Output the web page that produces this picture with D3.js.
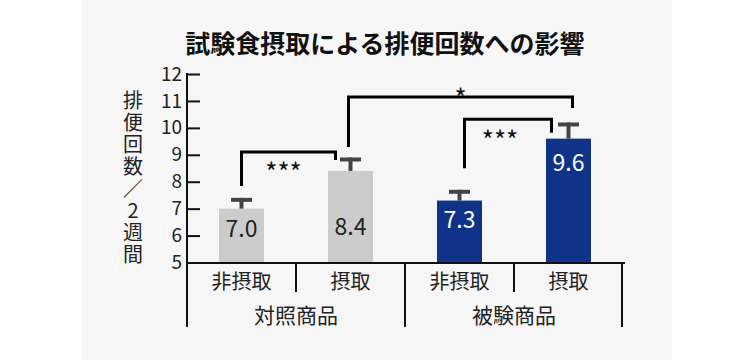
<!DOCTYPE html>
<html><head><meta charset="utf-8">
<script src="https://cdn.jsdelivr.net/npm/d3@7"></script>
<style>
html,body{margin:0;padding:0;background:#fff;}
svg text{font-family:"Noto Sans CJK JP","Noto Sans",sans-serif;}
</style></head>
<body><svg id="c" width="750" height="360"></svg>
<script>
// ---- data ----
const title = "試験食摂取による排便回数への影響";
const yTitle = "排便回数／2週間";
const subCategories = ["非摂取","摂取","非摂取","摂取"];
const groups = ["対照商品","被験商品"];
const values = [7.0, 8.4, 7.3, 9.6];
const valueLabels = ["7.0","8.4","7.3","9.6"];
const errors = [0.4, 0.5, 0.4, 0.6];
const yTicks = [5,6,7,8,9,10,11,12];
// significance brackets: bar index a -> b, level and leg ends in y units
const brackets = [
  {a:0, b:1, label:"***", top:9.10, aEnd:7.84, bEnd:8.81},
  {a:1, b:3, label:"*",   top:11.15, aEnd:9.29, bEnd:10.74},
  {a:2, b:3, label:"***", top:10.32, aEnd:8.50, bEnd:9.82}
];

// ---- style ----
const barColors = ["#cccccc","#cccccc","#10338a","#10338a"];
const labelColors = ["#222","#222","#fff","#fff"];
const labelOffsets = [20, 56, 19, 24];
const legDx = [[0,-15],[-2,4],[5,-17]];
const starDy = [30, 11, 31];
const starDx = [-5, 0, -8];

const svg = d3.select("#c");
svg.append("rect").attr("x",82).attr("y",0).attr("width",590).attr("height",360).attr("fill","#f6f6f6");

const x = d3.scaleBand().domain(d3.range(4)).range([187,623]).paddingInner(0).paddingOuter(0);
const y = d3.scaleLinear().domain([5,12]).range([262.5,74]);
const barW = 45;

svg.append("text").attr("x",385).attr("y",53).attr("text-anchor","middle")
  .attr("font-size",25).attr("font-weight","bold").attr("fill","#111").text(title);

// y axis
const yAxis = svg.append("g").attr("transform","translate(187,0)")
  .call(d3.axisLeft(y).tickValues(yTicks).tickSizeInner(-13).tickSizeOuter(0).tickPadding(5).tickFormat(d3.format("d")));
yAxis.select(".domain").remove();
yAxis.selectAll(".tick line").attr("stroke","#111").attr("stroke-width",2);
yAxis.selectAll(".tick text").attr("font-size",19).attr("fill","#222")
  .attr("font-family","'Noto Sans CJK JP',sans-serif");

// y title (vertical writing)
svg.append("text").attr("x",133).attr("y",90)
  .style("writing-mode","vertical-rl").style("text-orientation","upright")
  .attr("letter-spacing",2)
  .attr("font-size",20).attr("fill","#222").text(yTitle);

// bars
const bars = svg.append("g");
values.forEach((v,i)=>{
  const cx = x(i)+x.bandwidth()/2;
  bars.append("rect").attr("x",cx-barW/2).attr("y",y(v)).attr("width",barW)
    .attr("height",y(5)-y(v)).attr("fill",barColors[i]);
  // error bar
  bars.append("line").attr("x1",cx).attr("x2",cx).attr("y1",y(v)).attr("y2",y(v+errors[i]))
    .attr("stroke","#444").attr("stroke-width",4);
  bars.append("line").attr("x1",cx-10.5).attr("x2",cx+10.5).attr("y1",y(v+errors[i])+2).attr("y2",y(v+errors[i])+2)
    .attr("stroke","#444").attr("stroke-width",4);
  bars.append("text").attr("x",cx).attr("y",y(v)+labelOffsets[i]+8).attr("text-anchor","middle")
    .attr("font-size",23).attr("fill",labelColors[i]).text(valueLabels[i]);
});

// axes lines
const ax = svg.append("g").attr("stroke","#111").attr("stroke-width",2);
ax.append("line").attr("x1",187).attr("x2",187).attr("y1",73).attr("y2",327);
ax.append("line").attr("x1",186).attr("x2",625).attr("y1",263).attr("y2",263);
[1,2,3,4].forEach(k=>{
  const xx = k===4 ? x(3)+x.bandwidth() - 1 : x(k);
  ax.append("line").attr("x1",xx).attr("x2",xx).attr("y1",263).attr("y2", (k%2===0)?327:292);
});

// sub category labels
subCategories.forEach((s,i)=>{
  svg.append("text").attr("x",x(i)+x.bandwidth()/2).attr("y",289).attr("text-anchor","middle")
    .attr("font-size",20).attr("fill","#222").text(s);
});
groups.forEach((g,j)=>{
  svg.append("text").attr("x",x(2*j)+x.bandwidth()).attr("y",323).attr("text-anchor","middle")
    .attr("font-size",21).attr("fill","#222").text(g);
});

// brackets
brackets.forEach((b,k)=>{
  const xa = x(b.a)+x.bandwidth()/2 + legDx[k][0];
  const xb = x(b.b)+x.bandwidth()/2 + legDx[k][1];
  svg.append("path").attr("d",`M${xa},${y(b.aEnd)}V${y(b.top)}H${xb}V${y(b.bEnd)}`)
    .attr("fill","none").attr("stroke","#000").attr("stroke-width",3);
  svg.append("text").attr("x",(xa+xb)/2 + starDx[k]).attr("y",y(b.top)+starDy[k]).attr("text-anchor","middle")
    .attr("font-size",26).attr("fill","#111").text(b.label);
});
</script></body></html>
